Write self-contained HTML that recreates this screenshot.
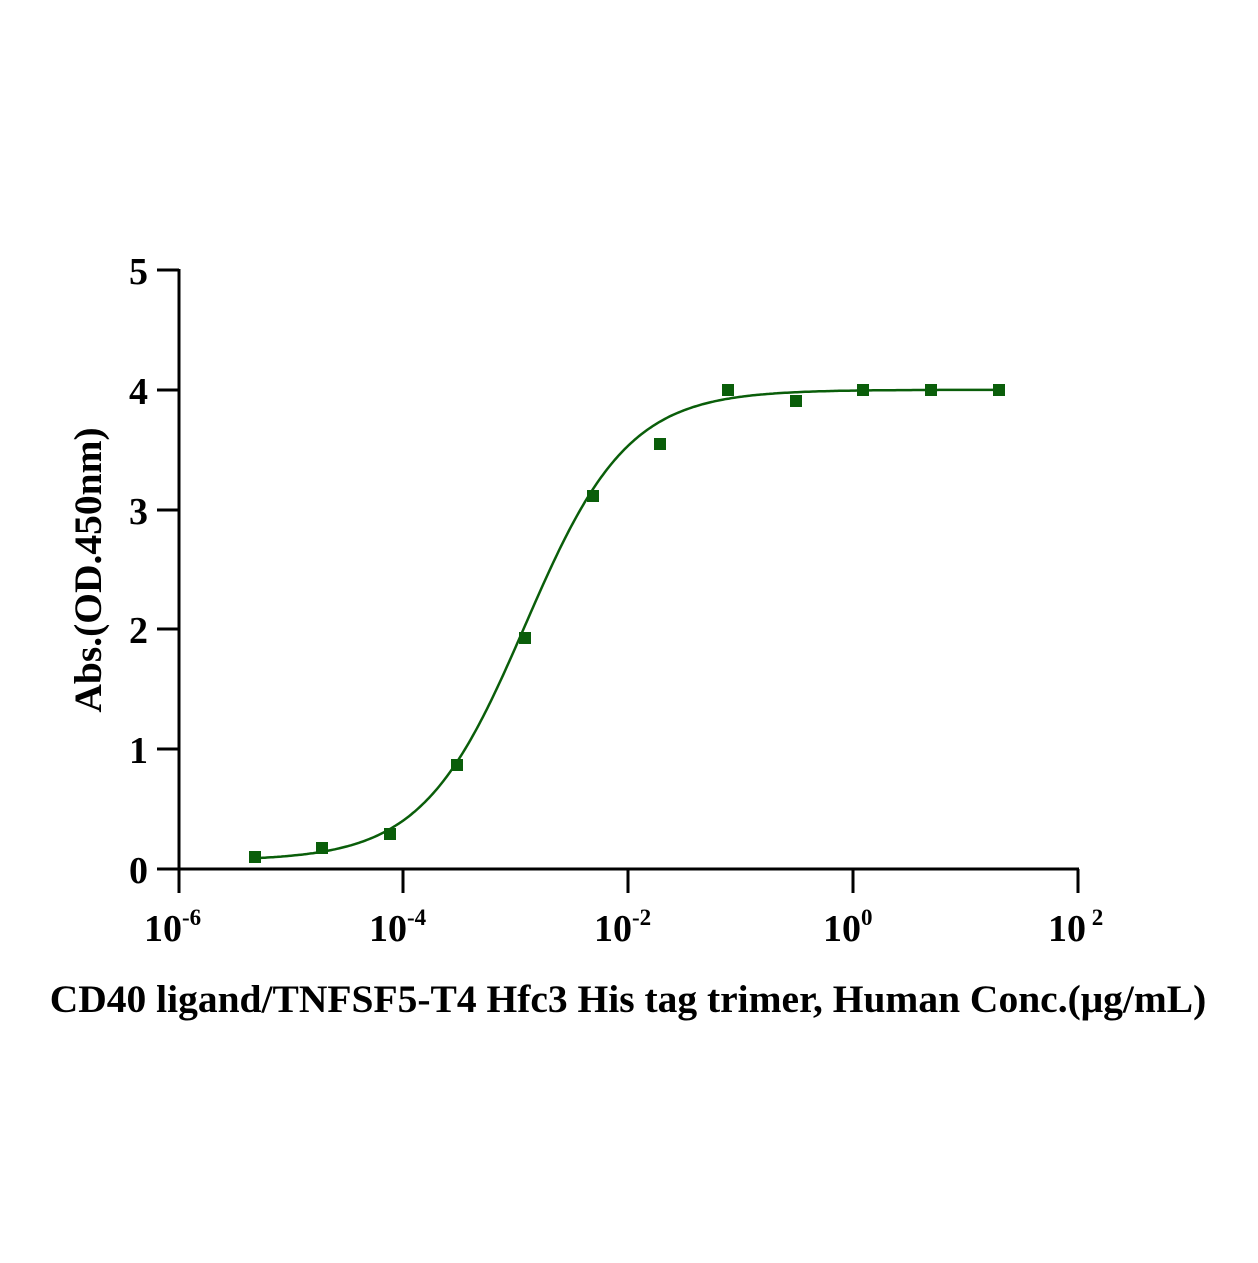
<!DOCTYPE html>
<html><head><meta charset="utf-8"><style>body{margin:0;background:#fff}</style></head><body>
<svg width="1258" height="1258" viewBox="0 0 1258 1258" xmlns="http://www.w3.org/2000/svg" font-family="Liberation Serif, serif" font-weight="bold">
<g stroke="#000" stroke-width="3" fill="none">
<line x1="179" y1="269" x2="179" y2="870"/>
<line x1="157" y1="869" x2="1079" y2="869"/>
<line x1="157" y1="270" x2="179" y2="270"/>
<line x1="157" y1="390" x2="179" y2="390"/>
<line x1="157" y1="510" x2="179" y2="510"/>
<line x1="157" y1="629" x2="179" y2="629"/>
<line x1="157" y1="749" x2="179" y2="749"/>
<line x1="179" y1="869" x2="179" y2="893"/>
<line x1="403" y1="869" x2="403" y2="893"/>
<line x1="628" y1="869" x2="628" y2="893"/>
<line x1="853" y1="869" x2="853" y2="893"/>
<line x1="1078" y1="869" x2="1078" y2="893"/>
</g>
<g font-size="38" text-anchor="end">
<text x="148" y="284">5</text><text x="148" y="404">4</text><text x="148" y="524">3</text>
<text x="148" y="643">2</text><text x="148" y="763">1</text><text x="148" y="883">0</text>
</g>
<g font-size="38">
<text x="144" y="941">10<tspan font-size="23" dy="-16">-6</tspan></text>
<text x="369" y="941">10<tspan font-size="23" dy="-16">-4</tspan></text>
<text x="594" y="941">10<tspan font-size="23" dy="-16">-2</tspan></text>
<text x="823" y="941">10<tspan font-size="23" dy="-16">0</tspan></text>
<text x="1048" y="941">10<tspan font-size="23" dy="-16"> 2</tspan></text>
</g>
<text x="628" y="1012" font-size="39.5" text-anchor="middle">CD40 ligand/TNFSF5-T4 Hfc3 His tag trimer, Human Conc.(μg/mL)</text>
<text transform="translate(101,570) rotate(-90)" font-size="39.5" text-anchor="middle">Abs.(OD.450nm)</text>
<path id="c" fill="none" stroke="#0a5e0a" stroke-width="2.5"/>
<g fill="#0a5e0a" id="pts"></g>
</svg>
<script>
var d="";for(var px=255;px<=999;px+=2){var lx=-6+(px-179)/112.4;var y=0.07+3.93/(1+Math.pow(10,(-2.92-lx)*0.95));d+=(px==255?"M":"L")+px+","+(869-y*119.8).toFixed(1);}
document.getElementById("c").setAttribute("d",d);
var p=[[255,857],[322,848],[390,834],[457,765],[525,638],[593,496],[660,444],[728,390],[796,401],[863,390],[931,390],[999,390]],s="";
p.forEach(function(q){s+='<rect x="'+(q[0]-6)+'" y="'+(q[1]-6)+'" width="12" height="12"/>';});
document.getElementById("pts").innerHTML=s;
</script>
</body></html>
